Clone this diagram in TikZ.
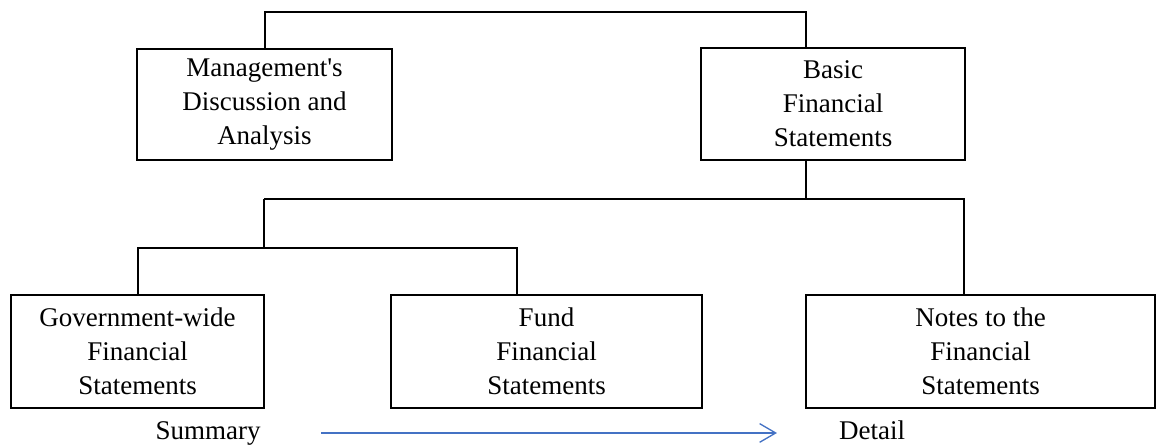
\documentclass[tikz,border=0pt]{standalone}
\usepackage{fontspec}
\setmainfont{Liberation Serif}
\usetikzlibrary{arrows.meta}
\definecolor{flowblue}{RGB}{68,114,196}
\tikzset{
  box/.style={draw, line width=1.5pt, align=center, inner sep=0pt,
    font=\fontsize{20.25}{25.5}\selectfont},
  link/.style={draw, line width=1.5pt},
  flow/.style={draw=flowblue, line width=1pt, -{Straight Barb[length=12pt,width=14pt]}},
}
\begin{document}
\begin{tikzpicture}[x=0.75pt,y=-0.75pt]
\useasboundingbox (0,0) rectangle (1156,445);
\node[box, minimum width=191.25pt, minimum height=83.25pt] (mda) at (264.5,105) {Management\textquotesingle s\\Discussion and\\Analysis};
\node[box, minimum width=198pt, minimum height=84pt] (bfs) at (833,104) {Basic\\Financial\\Statements};
\node[box, minimum width=189.75pt, minimum height=84.75pt] (gov) at (137.5,351.5) {Government-wide\\Financial\\Statements};
\node[box, minimum width=233.25pt, minimum height=84.75pt] (fund) at (546.5,351) {Fund\\Financial\\Statements};
\node[box, minimum width=261.75pt, minimum height=84.75pt] (notes) at (980.5,351.5) {Notes to the\\Financial\\Statements};
\node[anchor=base, font=\fontsize{20.25}{24.75}\selectfont] (sum) at (208,439) {Summary};
\node[anchor=base, font=\fontsize{20.25}{24.75}\selectfont] (det) at (872,439) {Detail};
% junctions of the tree
\coordinate (j1) at (806,12);
\coordinate (j2) at (806,199);
\coordinate (j3) at (264,199);
\coordinate (j4) at (964,199);
\coordinate (j5) at (264,248);
\coordinate (j6) at (517,248);
\path[link] (mda.north) |- (j1) -- (bfs.north -| j1);
\path[link] (bfs.south -| j2) -- (j2);
\path[link] (j3) -- (j4) -- (notes.north -| j4);
\path[link] (j3) -- (j5);
\path[link] (gov.north) |- (j6) -- (fund.north -| j6);
\path[flow, shorten <=42pt, shorten >=43pt] (sum.east) -- (sum.east -| det.west);
\end{tikzpicture}
\end{document}
